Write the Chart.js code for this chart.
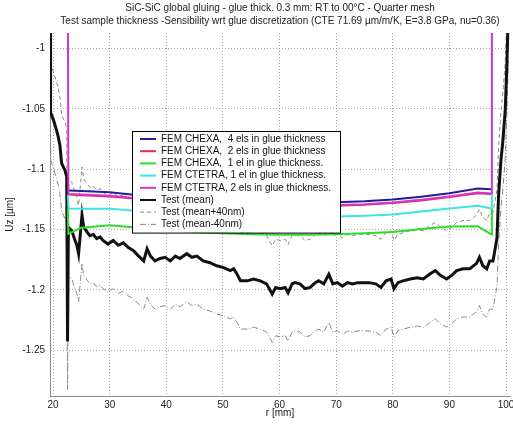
<!DOCTYPE html>
<html>
<head>
<meta charset="utf-8">
<script src="https://cdn.jsdelivr.net/npm/chart.js@4.4.1/dist/chart.umd.min.js"></script>
<style>
    html, body { margin: 0; padding: 0; background: #fff; }
    #wrap { width: 513px; height: 428px; }
</style>
</head>
<body>
<div id="wrap"><canvas id="uz-chart" width="513" height="428"></canvas></div>
<script>
// radial positions of the FEM nodes (mm); first/last are the glue edge nodes
const femR = [22.6, 22.7, 25, 30, 35, 40, 45, 50, 55, 60, 65, 70, 75, 80, 85, 90, 95, 97.4, 97.5];

const chexa4 = [-1.1175, -1.1175, -1.118, -1.119, -1.1215, -1.1235, -1.125, -1.126, -1.127, -1.1275, -1.1275, -1.1273, -1.1265, -1.125, -1.1228, -1.1198, -1.116, -1.1165, -1.1165];
const chexa2 = [-1.121, -1.121, -1.1215, -1.1225, -1.1245, -1.1265, -1.128, -1.129, -1.13, -1.1305, -1.1305, -1.1302, -1.1295, -1.128, -1.1258, -1.123, -1.1198, -1.1205, -1.1205];
const chexa1 = [-1.133, -1.1535, -1.1485, -1.1465, -1.1485, -1.1505, -1.152, -1.153, -1.1538, -1.1542, -1.1542, -1.1538, -1.153, -1.152, -1.1495, -1.1475, -1.1472, -1.154, -1.133];
const ctetra1 = [-1.121, -1.1325, -1.1328, -1.1328, -1.1345, -1.136, -1.1375, -1.1385, -1.139, -1.1395, -1.1395, -1.1392, -1.1385, -1.1375, -1.135, -1.1325, -1.1302, -1.1325, -1.121];
const ctetra2 = [-0.95, -1.1205, -1.121, -1.122, -1.124, -1.126, -1.1275, -1.1285, -1.1295, -1.13, -1.13, -1.1297, -1.129, -1.1275, -1.1253, -1.1225, -1.1193, -1.12, -0.95];

// measured displacement (mean of the test samples)
const testR = [19.45, 19.5, 19.6, 20.05, 20.6, 20.9, 21.2, 21.5, 22.1, 22.4, 22.55, 22.7, 23.3, 23.8, 24.2, 24.5, 25.1, 25.4, 26.0, 26.5,
    27.1, 27.7, 28.3, 28.8, 29.7, 30.6, 31.5, 32.4, 33.3, 34.2, 35.1, 36.0, 36.6, 37.2, 38.0, 38.9, 39.8, 40.7, 41.6, 42.4,
    43.6, 44.5, 45.4, 46.5, 47.7, 48.9, 50.1, 51.3, 51.9, 52.5, 53.1, 54.3, 55.4, 56.6, 57.7, 58.7, 59.3, 60.1, 61.0, 61.5,
    62.2, 62.7, 63.6, 64.5, 65.4, 66.3, 66.9, 67.8, 68.7, 69.4, 70.2, 71.1, 72.0, 72.9, 73.8, 74.7, 75.8, 77.0, 77.9, 78.8,
    79.7, 80.2, 80.9, 81.8, 83.1, 84.3, 85.4, 86.6, 87.5, 88.4, 89.5, 90.4, 91.3, 92.4, 93.6, 94.8, 95.3, 95.9, 96.6, 97.1,
    97.7, 98.4, 98.7, 99.1, 99.45, 99.86, 100.16, 100.4];
const testMean = [-0.97, -1.02, -1.053, -1.059, -1.0675, -1.073, -1.08, -1.095, -1.101, -1.106, -1.2425, -1.148, -1.151, -1.158, -1.163, -1.17, -1.138, -1.148, -1.152, -1.155,
    -1.154, -1.1575, -1.156, -1.159, -1.162, -1.159, -1.163, -1.161, -1.165, -1.1675, -1.172, -1.176, -1.166, -1.172, -1.176, -1.174, -1.173, -1.176, -1.172, -1.174,
    -1.17, -1.173, -1.172, -1.176, -1.1775, -1.18, -1.1815, -1.184, -1.1825, -1.187, -1.1925, -1.1925, -1.191, -1.1925, -1.195, -1.2035, -1.198, -1.199, -1.198, -1.2025,
    -1.195, -1.194, -1.195, -1.199, -1.198, -1.194, -1.1925, -1.195, -1.187, -1.195, -1.194, -1.197, -1.194, -1.195, -1.194, -1.194, -1.194, -1.195, -1.198, -1.1925,
    -1.191, -1.199, -1.194, -1.1925, -1.191, -1.19, -1.191, -1.1867, -1.184, -1.188, -1.191, -1.188, -1.184, -1.1825, -1.1825, -1.178, -1.173, -1.18, -1.1825, -1.176,
    -1.176, -1.157, -1.12, -1.0925, -1.076, -1.051, -1.012, -0.97];
// scatter band around the mean, in µm (40 nm)
const band = 0.04;

const xTicks = [20, 30, 40, 50, 60, 70, 80, 90, 100];
const yTicks = [-1.25, -1.2, -1.15, -1.1, -1.05, -1];

const FONT = 'Liberation Sans, Arial, sans-serif';

function pts(rs, vs) {
    return rs.map((r, i) => ({x: r, y: vs[i]}));
}

// legend box drawn inside the axes, on top of the curves
const boxLegend = {
    id: 'boxLegend',
    afterDraw(chart) {
        const ctx = chart.ctx;
        const sets = chart.data.datasets;
        const x0 = 132, y0 = 131, w = 208, rowH = 12.2;
        const h = sets.length * rowH + 4;
        ctx.save();
        ctx.fillStyle = '#fff';
        ctx.fillRect(x0, y0, w, h);
        ctx.strokeStyle = '#000';
        ctx.lineWidth = 1;
        ctx.strokeRect(x0 + 0.5, y0 + 0.5, w, h);
        ctx.font = '10px ' + FONT;
        ctx.textBaseline = 'middle';
        sets.forEach((ds, i) => {
            const y = y0 + 8 + i * rowH;
            ctx.beginPath();
            ctx.strokeStyle = ds.borderColor;
            ctx.lineWidth = Math.min(ds.borderWidth, 2);
            ctx.setLineDash(ds.borderDash || []);
            ctx.moveTo(x0 + 8, y);
            ctx.lineTo(x0 + 24, y);
            ctx.stroke();
            ctx.setLineDash([]);
            ctx.fillStyle = '#111';
            ctx.fillText(ds.label, x0 + 29, y);
        });
        ctx.restore();
    }
};

const lineDefaults = {showLine: true, pointRadius: 0, fill: false, tension: 0};

new Chart(document.getElementById('uz-chart'), {
    type: 'scatter',
    data: {
        datasets: [
            {...lineDefaults, label: 'FEM CHEXA,  4 els in glue thickness', data: pts(femR, chexa4), borderColor: '#1e1e9e', borderWidth: 2, order: 4},
            {...lineDefaults, label: 'FEM CHEXA,  2 els in glue thickness', data: pts(femR, chexa2), borderColor: '#e8283c', borderWidth: 2, order: 3},
            {...lineDefaults, label: 'FEM CHEXA,  1 el in glue thickness.', data: pts(femR, chexa1), borderColor: '#2edc2e', borderWidth: 2, order: 2},
            {...lineDefaults, label: 'FEM CTETRA, 1 el in glue thickness.', data: pts(femR, ctetra1), borderColor: '#3ce4e4', borderWidth: 2, order: 1},
            {...lineDefaults, label: 'FEM CTETRA, 2 els in glue thickness.', data: pts(femR, ctetra2), borderColor: '#d236d2', borderWidth: 2, order: 0},
            {...lineDefaults, label: 'Test (mean)', data: pts(testR, testMean), borderColor: '#111', borderWidth: 3, order: 5},
            {...lineDefaults, label: 'Test (mean+40nm)', data: pts(testR, testMean.map(v => v + band)), borderColor: '#8a8a8a', borderWidth: 1, borderDash: [4, 3], order: 6},
            {...lineDefaults, label: 'Test (mean-40nm)', data: pts(testR, testMean.map(v => v - band)), borderColor: '#8a8a8a', borderWidth: 1, borderDash: [6, 2, 1, 2], order: 7}
        ]
    },
    options: {
        responsive: false,
        animation: false,
        layout: {padding: {left: 0, right: 3, top: 0, bottom: 0}},
        plugins: {
            legend: {display: false},
            tooltip: {enabled: false},
            title: {
                display: true,
                fullSize: false,
                text: [
                    'SiC-SiC global gluing - glue thick. 0.3 mm: RT to 00°C - Quarter mesh',
                    'Test sample thickness -Sensibility wrt glue discretization (CTE 71.69 µm/m/K, E=3.8 GPa, nu=0.36)'
                ],
                color: '#222',
                font: {family: FONT, size: 10, weight: 'normal', lineHeight: 1.25},
                padding: {top: 2, bottom: 6}
            }
        },
        scales: {
            x: {
                type: 'linear',
                min: 19.45,
                max: 100.7,
                afterFit: s => { s.height = 32; s.paddingLeft = 0; s.paddingRight = 0; },
                afterBuildTicks: s => { s.ticks = xTicks.map(v => ({value: v})); },
                ticks: {color: '#222', font: {family: FONT, size: 10}, padding: 3, maxRotation: 0, autoSkip: false},
                grid: {color: '#a8a8a8', drawTicks: false},
                border: {display: true, color: '#8c8c8c', dash: [1, 2]},
                title: {display: true, text: 'r [mm]', color: '#222', font: {family: FONT, size: 10}, padding: {top: 0, bottom: 9}}
            },
            y: {
                type: 'linear',
                min: -1.288,
                max: -0.987,
                afterFit: s => { s.width = 50; s.paddingTop = 0; s.paddingBottom = 0; },
                afterBuildTicks: s => { s.ticks = yTicks.map(v => ({value: v})); },
                ticks: {
                    color: '#222', font: {family: FONT, size: 10}, padding: 5,
                    callback: v => String(Math.round(v * 100) / 100)
                },
                grid: {color: '#a8a8a8', drawTicks: false},
                border: {display: true, color: '#8c8c8c', dash: [1, 2]},
                title: {display: true, text: 'Uz [µm]', color: '#222', font: {family: FONT, size: 10}, padding: {top: 4, bottom: 4}}
            }
        }
    },
    plugins: [boxLegend]
});
</script>
</body>
</html>
